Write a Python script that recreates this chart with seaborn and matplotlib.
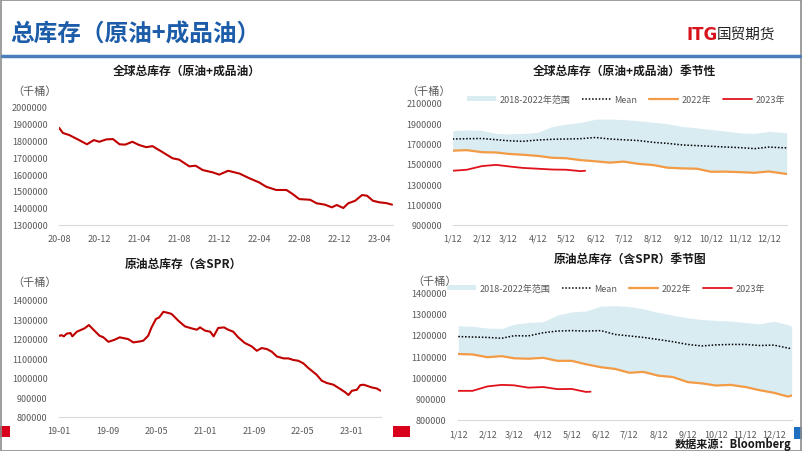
import pandas as pd
import seaborn as sns
import matplotlib.pyplot as plt
import matplotlib.dates as mdates
from matplotlib.ticker import FuncFormatter
from matplotlib.patches import Patch, Rectangle
from matplotlib.lines import Line2D

#%% Data

# global total stocks (crude + products), thousand barrels
glob_dates = ['2020-08-01', '2020-08-13', '2020-09-01', '2020-10-01', '2020-10-25', '2020-11-15',
              '2020-12-01', '2020-12-23', '2021-01-12', '2021-02-01', '2021-02-18', '2021-03-12',
              '2021-04-01', '2021-04-23', '2021-05-12', '2021-06-12', '2021-07-12', '2021-08-01',
              '2021-09-01', '2021-09-20', '2021-10-12', '2021-11-12', '2021-12-01', '2021-12-28',
              '2022-02-01', '2022-03-03', '2022-04-01', '2022-04-23', '2022-05-23', '2022-06-23',
              '2022-07-12', '2022-08-01', '2022-09-03', '2022-09-23', '2022-10-18', '2022-11-08',
              '2022-11-23', '2022-12-13', '2022-12-28', '2023-01-18', '2023-02-08', '2023-02-23',
              '2023-03-13', '2023-04-01', '2023-04-23', '2023-05-10']
glob_stock = [1875000, 1844000, 1832000, 1802000, 1777000, 1802000, 1792000, 1806000, 1808000,
              1777000, 1775000, 1792000, 1773000, 1760000, 1766000, 1730000, 1694000, 1686000,
              1646000, 1650000, 1624000, 1610000, 1597000, 1620000, 1603000, 1575000, 1551000,
              1525000, 1506000, 1506000, 1482000, 1452000, 1448000, 1427000, 1419000, 1403000,
              1417000, 1399000, 1427000, 1442000, 1476000, 1472000, 1442000, 1433000, 1428000,
              1419000]
glob_ticks = ['2020-08', '2020-12', '2021-04', '2021-08', '2021-12', '2022-04', '2022-08', '2022-12', '2023-04']

# crude total stocks incl. SPR
crude_dates = ['2019-01-01', '2019-01-12', '2019-01-24', '2019-02-07', '2019-02-26', '2019-03-07',
               '2019-03-30', '2019-05-07', '2019-05-29', '2019-06-18', '2019-07-21', '2019-08-08',
               '2019-09-04', '2019-10-05', '2019-10-30', '2019-12-11', '2020-01-06', '2020-02-08',
               '2020-02-25', '2020-03-20', '2020-04-06', '2020-04-28', '2020-05-14', '2020-06-04',
               '2020-06-29', '2020-07-15', '2020-08-18', '2020-09-20', '2020-10-23', '2020-11-18',
               '2020-12-04', '2020-12-30', '2021-01-24', '2021-02-10', '2021-03-05', '2021-04-03',
               '2021-04-24', '2021-05-19', '2021-06-13', '2021-07-16', '2021-08-19', '2021-09-14',
               '2021-10-08', '2021-11-03', '2021-11-28', '2021-12-23', '2022-01-26', '2022-02-19',
               '2022-03-15', '2022-04-09', '2022-05-04', '2022-05-29', '2022-06-15', '2022-07-10',
               '2022-08-04', '2022-08-29', '2022-10-02', '2022-11-05', '2022-11-30', '2022-12-16',
               '2023-01-02', '2023-01-27', '2023-02-13', '2023-03-01', '2023-03-17', '2023-04-11',
               '2023-05-06', '2023-05-26']
crude_stock = [1215000, 1218000, 1212000, 1226000, 1229000, 1212000, 1236000, 1253000, 1270000,
               1249000, 1215000, 1208000, 1184000, 1195000, 1207000, 1198000, 1181000, 1186000,
               1190000, 1215000, 1258000, 1301000, 1309000, 1338000, 1332000, 1327000, 1292000,
               1263000, 1253000, 1246000, 1258000, 1241000, 1236000, 1212000, 1255000, 1258000,
               1246000, 1236000, 1207000, 1178000, 1161000, 1138000, 1152000, 1147000, 1133000,
               1109000, 1099000, 1099000, 1091000, 1087000, 1074000, 1050000, 1036000, 1015000,
               985000, 973000, 964000, 942000, 925000, 911000, 933000, 938000, 962000,
               964000, 959000, 950000, 945000, 933000]
crude_ticks = ['2019-01', '2019-09', '2020-05', '2021-01', '2021-09', '2022-05', '2023-01']

# seasonal charts: month-day points
season_md = ['01-12', '01-27', '02-12', '02-27', '03-12', '03-27', '04-12', '04-27', '05-12',
             '05-27', '06-12', '06-27', '07-12', '07-27', '08-12', '08-27', '09-12', '09-27',
             '10-12', '10-27', '11-12', '11-27', '12-12', '12-27', '12-31']
md_2023 = ['01-12', '01-27', '02-12', '02-27', '03-12', '03-27', '04-12', '04-27', '05-12',
           '05-27', '06-01']
month_ticks = ['01-12', '02-12', '03-12', '04-12', '05-12', '06-12', '07-12', '08-12', '09-12',
               '10-12', '11-12', '12-12']
month_labels = ['1/12', '2/12', '3/12', '4/12', '5/12', '6/12', '7/12', '8/12', '9/12', '10/12',
                '11/12', '12/12']

glob_upper = [1827000, 1834000, 1830000, 1800000, 1795000, 1800000, 1810000, 1868000, 1892000,
              1908000, 1940000, 1942000, 1936000, 1925000, 1910000, 1895000, 1868000, 1855000,
              1838000, 1823000, 1805000, 1800000, 1820000, 1810000, 1805000]
glob_mean = [1745000, 1748000, 1750000, 1738000, 1728000, 1722000, 1735000, 1742000, 1745000,
             1748000, 1760000, 1745000, 1737000, 1730000, 1712000, 1702000, 1686000, 1680000,
             1673000, 1666000, 1660000, 1650000, 1665000, 1659000, 1658000]
glob_2022 = [1630000, 1635000, 1615000, 1612000, 1598000, 1590000, 1578000, 1560000, 1555000,
             1537000, 1525000, 1512000, 1522000, 1500000, 1488000, 1462000, 1455000, 1452000,
             1422000, 1423000, 1418000, 1412000, 1425000, 1405000, 1400000]
glob_2023 = [1432000, 1442000, 1478000, 1490000, 1475000, 1460000, 1452000, 1444000, 1442000,
             1428000, 1432000]

crude_upper = [1243000, 1240000, 1232000, 1230000, 1250000, 1258000, 1262000, 1293000, 1308000,
               1312000, 1335000, 1337000, 1333000, 1322000, 1305000, 1292000, 1280000, 1272000,
               1268000, 1265000, 1258000, 1252000, 1264000, 1248000, 1240000]
crude_mean = [1192000, 1190000, 1188000, 1184000, 1196000, 1195000, 1210000, 1218000, 1220000,
              1218000, 1220000, 1202000, 1195000, 1188000, 1178000, 1168000, 1155000, 1148000,
              1153000, 1155000, 1155000, 1150000, 1152000, 1138000, 1135000]
crude_2022 = [1110000, 1108000, 1095000, 1100000, 1090000, 1088000, 1092000, 1078000, 1078000,
              1062000, 1048000, 1040000, 1022000, 1026000, 1008000, 1002000, 978000, 972000,
              962000, 965000, 955000, 940000, 928000, 910000, 915000]
crude_2023 = [937000, 937000, 958000, 965000, 963000, 952000, 955000, 945000, 946000,
              932000, 933000]

#%% Style

sns.set_theme(style='white')
plt.rcParams['font.family'] = ['Noto Sans CJK SC', 'DejaVu Sans']

RED = '#C00000'
RED2 = '#E0121B'
ORANGE = '#F39A45'
BAND = '#D8ECF2'
GREY = '#595959'
W, H = 802, 452

fig = plt.figure(figsize=(W / 100, H / 100), dpi=100)


def px_axes(l, t, r, b):
    return fig.add_axes([l / W, 1 - b / H, (r - l) / W, (b - t) / H])


def doy(md):
    return pd.to_datetime(['2022-' + m for m in md]).dayofyear


def style_axes(ax, ypad):
    sns.despine(ax=ax, left=True)
    ax.spines['bottom'].set_color('#D9D9D9')
    ax.spines['bottom'].set_linewidth(0.8)
    ax.tick_params(axis='y', length=0, pad=ypad, labelsize=6.5, labelcolor=GREY)
    ax.tick_params(axis='x', length=2.5, color='#D9D9D9', pad=4, labelsize=6.5, labelcolor=GREY)
    ax.yaxis.set_major_formatter(FuncFormatter(lambda v, p: f'{int(v)}'))
    ax.set_xlabel('')
    ax.set_ylabel('')
    ax.set_facecolor('none')
    ax.grid(False)


#%% Global stocks line

ax1 = px_axes(59, 107.7, 393, 225.7)
d1 = pd.to_datetime(glob_dates)
sns.lineplot(x=d1, y=glob_stock, ax=ax1, color=RED, linewidth=1.5)
ax1.set_xlim(d1[0], pd.Timestamp('2023-05-13'))
ax1.set_ylim(1300000, 2000000)
ax1.set_yticks(range(1300000, 2000001, 100000))
ax1.set_xticks(pd.to_datetime(glob_ticks))
ax1.xaxis.set_major_formatter(mdates.DateFormatter('%y-%m'))
style_axes(ax1, 8)

#%% Crude stocks line

ax3 = px_axes(59.3, 300.7, 380.7, 417.7)
d3 = pd.to_datetime(crude_dates)
sns.lineplot(x=d3, y=crude_stock, ax=ax3, color=RED, linewidth=1.5)
ax3.set_xlim(d3[0], d3[-1])
ax3.set_ylim(800000, 1400000)
ax3.set_yticks(range(800000, 1400001, 100000))
ax3.set_xticks(pd.to_datetime(crude_ticks))
ax3.xaxis.set_major_formatter(mdates.DateFormatter('%y-%m'))
style_axes(ax3, 8.5)

#%% Seasonal charts

days = doy(season_md)
days23 = doy(md_2023)


def seasonal(ax, upper, mean, y22, y23):
    ax.fill_between(days, y22, upper, color=BAND, linewidth=0)
    sns.lineplot(x=days, y=mean, ax=ax, color='black', linewidth=1.1, linestyle=(0, (1, 1.2)))
    sns.lineplot(x=days, y=y22, ax=ax, color=ORANGE, linewidth=1.6)
    sns.lineplot(x=days23, y=y23, ax=ax, color=RED2, linewidth=1.3)
    ax.set_xlim(12, 365)
    ax.set_xticks(doy(month_ticks))
    ax.set_xticklabels(month_labels)


ax2 = px_axes(452.7, 104, 786.7, 225.7)
seasonal(ax2, glob_upper, glob_mean, glob_2022, glob_2023)
ax2.set_ylim(900000, 2100000)
ax2.set_yticks(range(900000, 2100001, 200000))
style_axes(ax2, 7.5)

ax4 = px_axes(458.3, 293.3, 791.7, 421)
seasonal(ax4, crude_upper, crude_mean, crude_2022, crude_2023)
ax4.set_ylim(800000, 1400000)
ax4.set_yticks(range(800000, 1400001, 100000))
style_axes(ax4, 8.5)

handles = [Patch(facecolor=BAND, edgecolor='none'),
           Line2D([], [], color='black', lw=1.1, ls=(0, (1, 1.2))),
           Line2D([], [], color=ORANGE, lw=1.6),
           Line2D([], [], color=RED2, lw=1.3)]
labels = ['2018-2022年范围', 'Mean', '2022年', '2023年']
for cx, cy in [(626, 100), (606, 289)]:
    fig.legend(handles, labels, loc='center', bbox_to_anchor=(cx / W, 1 - cy / H), ncol=4,
               frameon=False, fontsize=6.5, handlelength=3.2, handleheight=0.5,
               handletextpad=0.4, columnspacing=1.3, labelcolor=GREY)

#%% Titles, units and slide decorations

for x, y, s in [(187, 71, '全球总库存（原油+成品油）'), (183, 264, '原油总库存（含SPR）'),
                (624, 71, '全球总库存（原油+成品油）季节性'), (630, 259, '原油总库存（含SPR）季节图')]:
    fig.text(x / W, 1 - y / H, s, ha='center', va='center', fontsize=8.5, fontweight='bold',
             color='#1A1A1A')

for x, y in [(35, 92), (35, 283), (429, 92), (435, 282)]:
    fig.text(x / W, 1 - y / H, '（千桶）', ha='center', va='center', fontsize=8, color=GREY)

fig.text(10 / W, 1 - 35 / H, '总库存（原油+成品油）', ha='left', va='center', fontsize=17,
         fontweight='bold', color='#1C5CA9')
fig.text(686 / W, 1 - 35 / H, 'ITG', ha='left', va='center', fontsize=12, fontweight='bold',
         color='#D7141E', family='DejaVu Sans')
fig.text(717 / W, 1 - 35 / H, '国贸期货', ha='left', va='center', fontsize=10.5, color='#222222')
fig.add_artist(Line2D([2 / W, 800 / W], [1 - 57 / H] * 2, color='#4A7EBB', lw=2.5))

fig.text(733 / W, 1 - 445 / H, '数据来源：Bloomberg', ha='center', va='center', fontsize=8,
         fontweight='bold', color='#1A1A1A')

for l, t, r, b, c in [(0, 427, 10, 438, '#D9001B'), (393, 427, 410, 438, '#D9001B'),
                      (794, 428, 802, 440, '#1F6FC0')]:
    fig.add_artist(Rectangle((l / W, 1 - b / H), (r - l) / W, (b - t) / H, transform=fig.transFigure,
                             facecolor=c, edgecolor='none'))

fig.add_artist(Rectangle((0.5 / W, 0.5 / H), 1 - 1.5 / W, 1 - 1.5 / H, transform=fig.transFigure,
                         fill=False, edgecolor='#8C8C8C', lw=1.2))

fig.savefig('out.png', dpi=100)
